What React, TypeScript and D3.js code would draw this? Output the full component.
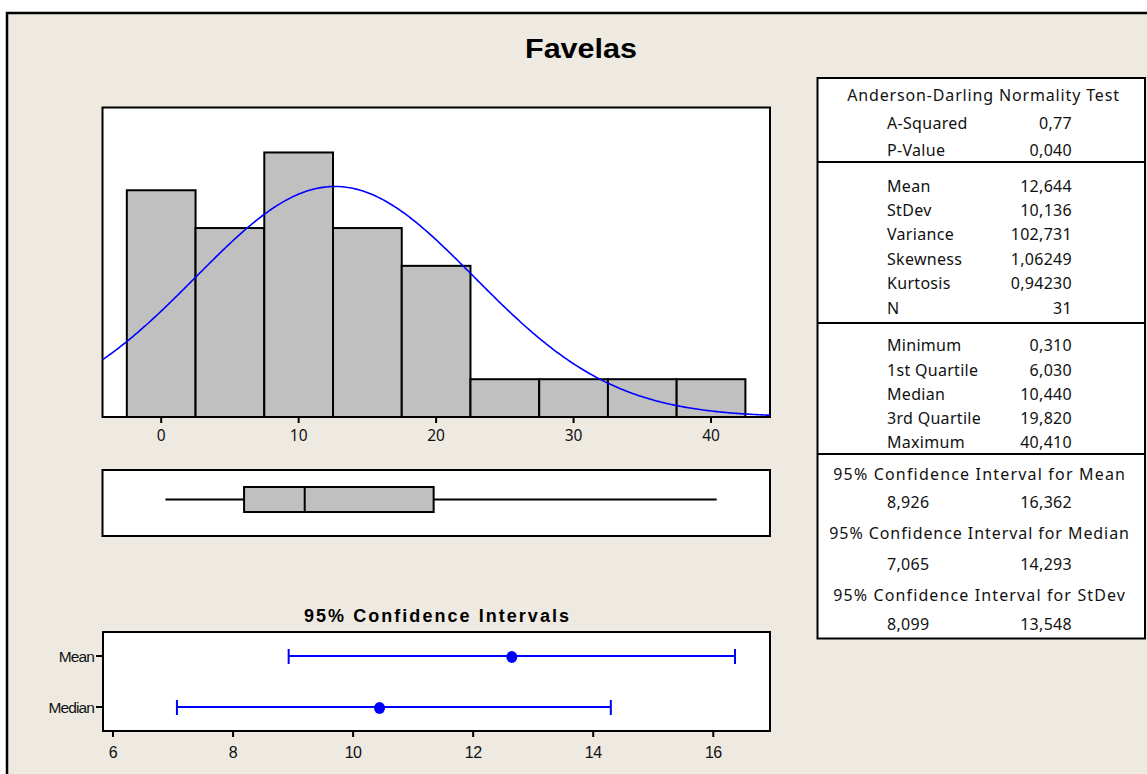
import React from "react";
import * as d3 from "d3";

// ---------- data ----------
const binLower = [-2.5, 2.5, 7.5, 12.5, 17.5, 22.5, 27.5, 32.5, 37.5];
const binWidth = 5;
const binCounts = [6, 5, 7, 5, 4, 1, 1, 1, 1];
const histTicks = [0, 10, 20, 30, 40];

const sampleMean = 12.644;
const sampleStDev = 10.136;
const sampleN = 31;

// min, Q1, median, Q3, max
const boxStats = [0.31, 6.03, 10.44, 19.82, 40.41];

const ciNames = ["Mean", "Median"];
const ciPoint = [12.644, 10.44];
const ciLow = [8.926, 7.065];
const ciHigh = [16.362, 14.293];
const ciTicks = [6, 8, 10, 12, 14, 16];

const adLabels = ["A-Squared", "P-Value"];
const adValues = ["0,77", "0,040"];
const descLabels = ["Mean", "StDev", "Variance", "Skewness", "Kurtosis", "N"];
const descValues = ["12,644", "10,136", "102,731", "1,06249", "0,94230", "31"];
const quartLabels = ["Minimum", "1st Quartile", "Median", "3rd Quartile", "Maximum"];
const quartValues = ["0,310", "6,030", "10,440", "19,820", "40,410"];
const ciTitles = [
  "95% Confidence Interval for Mean",
  "95% Confidence Interval for Median",
  "95% Confidence Interval for StDev",
];
const ciTableLow = ["8,926", "7,065", "8,099"];
const ciTableHigh = ["16,362", "14,293", "13,548"];

// ---------- layout ----------
const W = 1147;
const H = 774;
const BG = "#EEEAE1";
const BLUE = "#0000FF";
const GRAY = "#C0C0C0";
const SANS = "'Liberation Sans', Arial, sans-serif";
const TABLE_FONT = "'Noto Sans', 'DejaVu Sans', sans-serif";

const hist = { x0: 102.5, x1: 770, y0: 107.5, y1: 417 };
const boxP = { x0: 102.5, x1: 770, y0: 470, y1: 536 };
const ciP = { x0: 103, x1: 770, y0: 632, y1: 731 };
const table = { x0: 817.5, x1: 1145, y0: 78, y1: 638.5 };

export default function App() {
  const x = d3.scaleLinear().domain([-4.27, 44.29]).range([hist.x0, hist.x1]);
  const y = d3.scaleLinear().domain([0, 8.19]).range([hist.y1, hist.y0]);
  const xc = d3.scaleLinear().domain([5.833, 16.945]).range([ciP.x0, ciP.x1]);
  const yc = d3.scalePoint().domain(ciNames).range([ciP.y0, ciP.y1]).padding(0.47);

  const scaleFactor = sampleN * binWidth;
  const [dLo, dHi] = x.domain();
  const curvePts = d3.range(0, 401).map((i) => {
    const v = dLo + ((dHi - dLo) * i) / 400;
    const z = (v - sampleMean) / sampleStDev;
    const dens = (scaleFactor / (sampleStDev * Math.sqrt(2 * Math.PI))) * Math.exp(-0.5 * z * z);
    return [v, dens] as [number, number];
  });
  const line = d3
    .line<[number, number]>()
    .x((d) => x(d[0]))
    .y((d) => y(d[1]));

  const boxMid = (boxP.y0 + boxP.y1) / 2 - 3.5;
  const boxH = 25;

  // table rows
  const labelX = 887;
  const valueX = 1072;
  const tableCx = (table.x0 + table.x1) / 2;
  const adY = [123, 150];
  const descY = [186, 210, 234, 259, 283, 308];
  const quartY = [345, 370, 394, 418, 442];
  const ciTitleY = [474, 533, 595];
  const ciValY = [502, 564, 624];
  const dividers = [162, 323, 454];

  const tfs = 16;

  return (
    <svg
      width={W}
      height={H}
      style={{ position: "absolute", left: 0, top: 0, display: "block" }}
      fontFamily={SANS}
    >
      <rect x={0} y={0} width={W} height={H} fill="#FFFFFF" />
      <rect x={7} y={13} width={W + 10} height={H + 10} fill={BG} stroke="#000" strokeWidth={2.5} />

      {/* title */}
      <text x={581} y={58} textAnchor="middle" fontSize={28} fontWeight="bold" textLength={112} lengthAdjust="spacingAndGlyphs">
        Favelas
      </text>

      {/* histogram panel */}
      <rect x={hist.x0} y={hist.y0} width={hist.x1 - hist.x0} height={hist.y1 - hist.y0} fill="#FFFFFF" stroke="#000" strokeWidth={2} />
      <g>
        {binLower.map((b, i) => (
          <rect
            key={i}
            x={x(b)}
            y={y(binCounts[i])}
            width={x(b + binWidth) - x(b)}
            height={y(0) - y(binCounts[i])}
            fill={GRAY}
            stroke="#000"
            strokeWidth={2}
          />
        ))}
      </g>
      <defs>
        <clipPath id="histClip">
          <rect x={hist.x0} y={hist.y0} width={hist.x1 - hist.x0} height={hist.y1 - hist.y0} />
        </clipPath>
      </defs>
      <path d={line(curvePts) || ""} fill="none" stroke={BLUE} strokeWidth={1.6} clipPath="url(#histClip)" />
      <line x1={hist.x0} x2={hist.x1} y1={hist.y1} y2={hist.y1} stroke="#000" strokeWidth={2} />
      <g>
        {histTicks.map((t) => (
          <g key={t}>
            <line x1={x(t)} x2={x(t)} y1={hist.y1} y2={hist.y1 + 6} stroke="#000" strokeWidth={2} />
            <text x={x(t)} y={441} textAnchor="middle" fontSize={15.5} fontFamily={TABLE_FONT} fill="#111">
              {t}
            </text>
          </g>
        ))}
      </g>

      {/* boxplot panel */}
      <rect x={boxP.x0} y={boxP.y0} width={boxP.x1 - boxP.x0} height={boxP.y1 - boxP.y0} fill="#FFFFFF" stroke="#000" strokeWidth={2} />
      <line x1={x(boxStats[0])} x2={x(boxStats[1])} y1={boxMid} y2={boxMid} stroke="#000" strokeWidth={2} />
      <line x1={x(boxStats[3])} x2={x(boxStats[4])} y1={boxMid} y2={boxMid} stroke="#000" strokeWidth={2} />
      <rect
        x={x(boxStats[1])}
        y={boxMid - boxH / 2}
        width={x(boxStats[3]) - x(boxStats[1])}
        height={boxH}
        fill={GRAY}
        stroke="#000"
        strokeWidth={2}
      />
      <line x1={x(boxStats[2])} x2={x(boxStats[2])} y1={boxMid - boxH / 2} y2={boxMid + boxH / 2} stroke="#000" strokeWidth={2} />

      {/* confidence intervals */}
      <text x={(ciP.x0 + ciP.x1) / 2} y={622} textAnchor="middle" fontSize={18} fontWeight="bold" textLength={265} lengthAdjust="spacing">
        95% Confidence Intervals
      </text>
      <rect x={ciP.x0} y={ciP.y0} width={ciP.x1 - ciP.x0} height={ciP.y1 - ciP.y0} fill="#FFFFFF" stroke="#000" strokeWidth={2} />
      {ciNames.map((n, i) => {
        const cy = yc(n) as number;
        return (
          <g key={n}>
            <line x1={ciP.x0 - 7} x2={ciP.x0} y1={cy} y2={cy} stroke="#000" strokeWidth={2} />
            <text x={ciP.x0 - 9} y={cy} dy="0.36em" textAnchor="end" fontSize={15.5} fill="#111" letterSpacing={-0.9}>
              {n}
            </text>
            <line x1={xc(ciLow[i])} x2={xc(ciHigh[i])} y1={cy} y2={cy} stroke={BLUE} strokeWidth={2} />
            <line x1={xc(ciLow[i])} x2={xc(ciLow[i])} y1={cy - 7} y2={cy + 8} stroke={BLUE} strokeWidth={2} />
            <line x1={xc(ciHigh[i])} x2={xc(ciHigh[i])} y1={cy - 7} y2={cy + 8} stroke={BLUE} strokeWidth={2} />
            <ellipse cx={xc(ciPoint[i])} cy={cy + 1} rx={5.5} ry={6} fill={BLUE} />
          </g>
        );
      })}
      {ciTicks.map((t) => (
        <g key={t}>
          <line x1={xc(t)} x2={xc(t)} y1={ciP.y1} y2={ciP.y1 + 6} stroke="#000" strokeWidth={2} />
          <text x={xc(t)} y={758} textAnchor="middle" fontSize={16} fill="#111" letterSpacing={-0.5}>
            {t}
          </text>
        </g>
      ))}

      {/* statistics table */}
      <g fontFamily={TABLE_FONT} fontSize={tfs} fill="#111" letterSpacing={0.3}>
        <rect x={table.x0} y={table.y0} width={table.x1 - table.x0} height={table.y1 - table.y0} fill="#FFFFFF" stroke="#000" strokeWidth={2} />
        {dividers.map((d) => (
          <line key={d} x1={table.x0} x2={table.x1} y1={d} y2={d} stroke="#000" strokeWidth={2} />
        ))}
        <text x={tableCx + 2} y={95} dy="0.35em" textAnchor="middle" textLength={272} lengthAdjust="spacing">
          Anderson-Darling Normality Test
        </text>
        {adLabels.map((l, i) => (
          <g key={l}>
            <text x={labelX} y={adY[i]} dy="0.35em">{l}</text>
            <text x={valueX} y={adY[i]} dy="0.35em" textAnchor="end">{adValues[i]}</text>
          </g>
        ))}
        {descLabels.map((l, i) => (
          <g key={l}>
            <text x={labelX} y={descY[i]} dy="0.35em">{l}</text>
            <text x={valueX} y={descY[i]} dy="0.35em" textAnchor="end">{descValues[i]}</text>
          </g>
        ))}
        {quartLabels.map((l, i) => (
          <g key={l}>
            <text x={labelX} y={quartY[i]} dy="0.35em">{l}</text>
            <text x={valueX} y={quartY[i]} dy="0.35em" textAnchor="end">{quartValues[i]}</text>
          </g>
        ))}
        {ciTitles.map((t, i) => (
          <g key={t}>
            <text x={tableCx - 2} y={ciTitleY[i]} dy="0.35em" textAnchor="middle" textLength={i === 1 ? 300 : 292} lengthAdjust="spacing">
              {t}
            </text>
            <text x={labelX} y={ciValY[i]} dy="0.35em">{ciTableLow[i]}</text>
            <text x={valueX} y={ciValY[i]} dy="0.35em" textAnchor="end">{ciTableHigh[i]}</text>
          </g>
        ))}
      </g>
    </svg>
  );
}
